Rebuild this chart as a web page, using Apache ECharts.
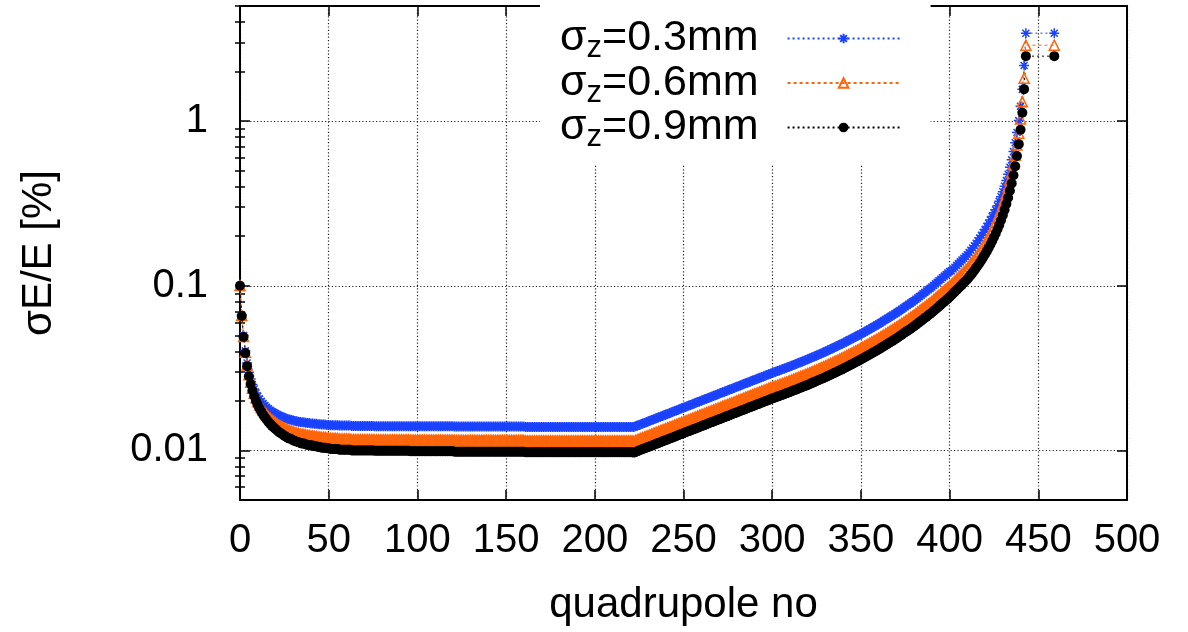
<!DOCTYPE html>
<html><head><meta charset="utf-8">
<script src="https://cdn.jsdelivr.net/npm/echarts@6/dist/echarts.min.js"></script>
<style>html,body{margin:0;padding:0;background:#fff}#chart{width:1188px;height:632px}</style>
</head><body><div id="chart"></div>
<script>
const seriesNames = ['σz=0.3mm', 'σz=0.6mm', 'σz=0.9mm'];

// sigma_E/E [%] per quadrupole number (index = quadrupole no, 0..443)
const sigmaZ03 = [
0.1005,0.06635,0.04989,0.04024,0.03398,0.02989,0.02717,0.02514,0.02358,0.02232,
0.02134,0.02055,0.01985,0.01925,0.01874,0.01831,0.01789,0.01756,0.01723,0.01699,
0.01675,0.01650,0.01627,0.01611,0.01595,0.01580,0.01564,0.01549,0.01541,0.01533,
0.01518,0.01511,0.01503,0.01495,0.01488,0.01481,0.01481,0.01473,0.01466,0.01466,
0.01458,0.01458,0.01451,0.01451,0.01444,0.01444,0.01437,0.01437,0.01437,0.01429,
0.01429,0.01422,0.01422,0.01422,0.01422,0.01422,0.01415,0.01415,0.01415,0.01415,
0.01415,0.01415,0.01415,0.01408,0.01408,0.01408,0.01408,0.01408,0.01408,0.01408,
0.01408,0.01408,0.01408,0.01408,0.01408,0.01408,0.01404,0.01404,0.01404,0.01404,
0.01404,0.01404,0.01404,0.01404,0.01404,0.01404,0.01404,0.01404,0.01404,0.01404,
0.01404,0.01404,0.01404,0.01404,0.01404,0.01404,0.01401,0.01401,0.01401,0.01401,
0.01401,0.01401,0.01401,0.01401,0.01401,0.01401,0.01401,0.01401,0.01401,0.01401,
0.01401,0.01401,0.01401,0.01401,0.01401,0.01401,0.01401,0.01401,0.01401,0.01401,
0.01401,0.01396,0.01396,0.01396,0.01396,0.01396,0.01396,0.01396,0.01396,0.01396,
0.01396,0.01396,0.01396,0.01396,0.01396,0.01396,0.01396,0.01396,0.01396,0.01396,
0.01396,0.01396,0.01396,0.01396,0.01396,0.01396,0.01396,0.01396,0.01396,0.01396,
0.01396,0.01396,0.01396,0.01396,0.01396,0.01396,0.01396,0.01396,0.01396,0.01396,
0.01396,0.01390,0.01390,0.01390,0.01390,0.01390,0.01390,0.01390,0.01390,0.01390,
0.01390,0.01390,0.01390,0.01390,0.01390,0.01390,0.01390,0.01390,0.01390,0.01390,
0.01390,0.01390,0.01390,0.01390,0.01390,0.01390,0.01390,0.01390,0.01390,0.01390,
0.01390,0.01390,0.01390,0.01390,0.01390,0.01390,0.01390,0.01390,0.01390,0.01390,
0.01390,0.01390,0.01390,0.01390,0.01390,0.01390,0.01390,0.01390,0.01390,0.01390,
0.01390,0.01390,0.01390,0.01390,0.01390,0.01390,0.01390,0.01390,0.01390,0.01390,
0.01390,0.01390,0.01387,0.01401,0.01415,0.01429,0.01443,0.01457,0.01470,0.01484,
0.01499,0.01513,0.01529,0.01543,0.01559,0.01573,0.01589,0.01604,0.01620,0.01636,
0.01652,0.01667,0.01683,0.01700,0.01716,0.01733,0.01750,0.01767,0.01785,0.01802,
0.01819,0.01838,0.01855,0.01873,0.01890,0.01909,0.01928,0.01946,0.01966,0.01985,
0.02005,0.02023,0.02043,0.02063,0.02084,0.02104,0.02125,0.02145,0.02166,0.02188,
0.02208,0.02229,0.02252,0.02274,0.02295,0.02318,0.02341,0.02364,0.02387,0.02410,
0.02434,0.02457,0.02481,0.02505,0.02530,0.02554,0.02580,0.02604,0.02630,0.02656,
0.02681,0.02707,0.02733,0.02760,0.02787,0.02814,0.02841,0.02869,0.02897,0.02924,
0.02953,0.02980,0.03007,0.03036,0.03063,0.03092,0.03120,0.03149,0.03179,0.03207,
0.03238,0.03270,0.03302,0.03335,0.03368,0.03402,0.03435,0.03469,0.03504,0.03539,
0.03574,0.03612,0.03652,0.03692,0.03732,0.03772,0.03814,0.03855,0.03897,0.03940,
0.03983,0.04030,0.04077,0.04126,0.04174,0.04224,0.04274,0.04324,0.04376,0.04427,
0.04480,0.04539,0.04597,0.04658,0.04718,0.04779,0.04841,0.04903,0.04968,0.05032,
0.05098,0.05169,0.05244,0.05318,0.05393,0.05470,0.05547,0.05626,0.05704,0.05786,
0.05867,0.05959,0.06052,0.06146,0.06242,0.06339,0.06438,0.06538,0.06639,0.06742,
0.06847,0.06964,0.07084,0.07206,0.07330,0.07456,0.07583,0.07715,0.07846,0.07982,
0.08120,0.08277,0.08436,0.08599,0.08764,0.08935,0.09106,0.09282,0.09462,0.09644,
0.09831,0.1005,0.1027,0.1049,0.1072,0.1096,0.1119,0.1144,0.1169,0.1194,
0.1221,0.1234,0.1265,0.1297,0.1330,0.1363,0.1397,0.1433,0.1469,0.1506,
0.1544,0.1592,0.1641,0.1695,0.1751,0.1812,0.1878,0.1947,0.2023,0.2105,
0.2193,0.2288,0.2394,0.2508,0.2635,0.2776,0.2890,0.3062,0.3255,0.3475,
0.3727,0.4017,0.4358,0.4761,0.5246,0.5816,0.6526,0.7393,0.8528,1.007,
1.230,1.562,2.173,3.42
];

const sigmaZ06 = [
0.1002,0.06587,0.04926,0.03945,0.03304,0.02882,0.02599,0.02387,0.02222,0.02087,
0.01981,0.01896,0.01821,0.01754,0.01698,0.01652,0.01605,0.01568,0.01531,0.01503,
0.01476,0.01448,0.01421,0.01403,0.01385,0.01367,0.01349,0.01331,0.01322,0.01313,
0.01296,0.01287,0.01278,0.01269,0.01260,0.01251,0.01251,0.01243,0.01234,0.01234,
0.01225,0.01225,0.01217,0.01217,0.01208,0.01208,0.01199,0.01199,0.01199,0.01190,
0.01190,0.01182,0.01182,0.01182,0.01182,0.01182,0.01173,0.01173,0.01173,0.01173,
0.01173,0.01173,0.01173,0.01164,0.01164,0.01164,0.01164,0.01164,0.01164,0.01164,
0.01164,0.01164,0.01164,0.01164,0.01164,0.01164,0.01160,0.01160,0.01160,0.01160,
0.01160,0.01160,0.01160,0.01160,0.01160,0.01160,0.01160,0.01160,0.01160,0.01160,
0.01160,0.01160,0.01160,0.01160,0.01160,0.01160,0.01156,0.01156,0.01156,0.01156,
0.01156,0.01156,0.01156,0.01156,0.01156,0.01156,0.01156,0.01156,0.01156,0.01156,
0.01156,0.01156,0.01156,0.01156,0.01156,0.01156,0.01156,0.01156,0.01156,0.01156,
0.01156,0.01150,0.01150,0.01150,0.01150,0.01150,0.01150,0.01150,0.01150,0.01150,
0.01150,0.01150,0.01150,0.01150,0.01150,0.01150,0.01150,0.01150,0.01150,0.01150,
0.01150,0.01150,0.01150,0.01150,0.01150,0.01150,0.01150,0.01150,0.01150,0.01150,
0.01150,0.01150,0.01150,0.01150,0.01150,0.01150,0.01150,0.01150,0.01150,0.01150,
0.01150,0.01143,0.01143,0.01143,0.01143,0.01143,0.01143,0.01143,0.01143,0.01143,
0.01143,0.01143,0.01143,0.01143,0.01143,0.01143,0.01143,0.01143,0.01143,0.01143,
0.01143,0.01143,0.01143,0.01143,0.01143,0.01143,0.01143,0.01143,0.01143,0.01143,
0.01143,0.01143,0.01143,0.01143,0.01143,0.01143,0.01143,0.01143,0.01143,0.01143,
0.01143,0.01143,0.01143,0.01143,0.01143,0.01143,0.01143,0.01143,0.01143,0.01143,
0.01143,0.01143,0.01143,0.01143,0.01143,0.01143,0.01143,0.01143,0.01143,0.01143,
0.01143,0.01143,0.01139,0.01150,0.01162,0.01173,0.01185,0.01196,0.01207,0.01219,
0.01230,0.01242,0.01255,0.01267,0.01280,0.01291,0.01304,0.01317,0.01330,0.01343,
0.01356,0.01369,0.01382,0.01396,0.01409,0.01423,0.01437,0.01451,0.01465,0.01479,
0.01493,0.01509,0.01523,0.01538,0.01552,0.01567,0.01583,0.01598,0.01614,0.01630,
0.01646,0.01661,0.01678,0.01694,0.01711,0.01727,0.01745,0.01761,0.01779,0.01796,
0.01813,0.01830,0.01849,0.01867,0.01884,0.01903,0.01922,0.01941,0.01959,0.01978,
0.01998,0.02017,0.02037,0.02057,0.02077,0.02097,0.02118,0.02138,0.02159,0.02180,
0.02201,0.02222,0.02244,0.02266,0.02288,0.02310,0.02333,0.02355,0.02379,0.02401,
0.02424,0.02438,0.02461,0.02484,0.02506,0.02530,0.02553,0.02576,0.02601,0.02624,
0.02649,0.02676,0.02702,0.02728,0.02755,0.02783,0.02810,0.02838,0.02867,0.02896,
0.02924,0.02955,0.02988,0.03021,0.03054,0.03086,0.03120,0.03154,0.03188,0.03223,
0.03258,0.03297,0.03336,0.03375,0.03415,0.03456,0.03497,0.03538,0.03580,0.03622,
0.03666,0.03714,0.03762,0.03811,0.03860,0.03910,0.03960,0.04012,0.04065,0.04117,
0.04171,0.04230,0.04290,0.04351,0.04412,0.04475,0.04538,0.04603,0.04667,0.04734,
0.04801,0.04875,0.04951,0.05029,0.05107,0.05187,0.05267,0.05349,0.05432,0.05517,
0.05602,0.05698,0.05796,0.05896,0.05997,0.06100,0.06205,0.06312,0.06420,0.06531,
0.06643,0.06772,0.06902,0.07035,0.07171,0.07310,0.07451,0.07594,0.07742,0.07890,
0.08044,0.08219,0.08399,0.08583,0.08771,0.08963,0.09159,0.09359,0.09565,0.09773,
0.09987,0.1019,0.1045,0.1071,0.1098,0.1126,0.1155,0.1184,0.1214,0.1244,
0.1276,0.1315,0.1356,0.1400,0.1447,0.1497,0.1552,0.1609,0.1672,0.1739,
0.1812,0.1891,0.1978,0.2073,0.2177,0.2294,0.2422,0.2566,0.2728,0.2912,
0.3123,0.3367,0.3652,0.3990,0.4397,0.4874,0.5470,0.6197,0.7147,0.8442,
1.031,1.309,1.821,2.89
];

const sigmaZ09 = [
0.100,0.0656,0.0489,0.0390,0.0325,0.0282,0.0253,0.0231,0.0214,0.0200,
0.0189,0.0180,0.0172,0.0165,0.0159,0.0154,0.0149,0.0145,0.0141,0.0138,
0.0135,0.0132,0.0129,0.0127,0.0125,0.0123,0.0121,0.0119,0.0118,0.0117,
0.0115,0.0114,0.0113,0.0112,0.0111,0.0110,0.0110,0.0109,0.0108,0.0108,
0.0107,0.0107,0.0106,0.0106,0.0105,0.0105,0.0104,0.0104,0.0104,0.0103,
0.0103,0.0102,0.0102,0.0102,0.0102,0.0102,0.0101,0.0101,0.0101,0.0101,
0.0101,0.0101,0.0101,0.0100,0.0100,0.0100,0.0100,0.0100,0.0100,0.0100,
0.0100,0.0100,0.0100,0.0100,0.0100,0.0100,0.00995,0.00995,0.00995,0.00995,
0.00995,0.00995,0.00995,0.00995,0.00995,0.00995,0.00995,0.00995,0.00995,0.00995,
0.00995,0.00995,0.00995,0.00995,0.00995,0.00995,0.00990,0.00990,0.00990,0.00990,
0.00990,0.00990,0.00990,0.00990,0.00990,0.00990,0.00990,0.00990,0.00990,0.00990,
0.00990,0.00990,0.00990,0.00990,0.00990,0.00990,0.00990,0.00990,0.00990,0.00990,
0.00990,0.00983,0.00983,0.00983,0.00983,0.00983,0.00983,0.00983,0.00983,0.00983,
0.00983,0.00983,0.00983,0.00983,0.00983,0.00983,0.00983,0.00983,0.00983,0.00983,
0.00983,0.00983,0.00983,0.00983,0.00983,0.00983,0.00983,0.00983,0.00983,0.00983,
0.00983,0.00983,0.00983,0.00983,0.00983,0.00983,0.00983,0.00983,0.00983,0.00983,
0.00983,0.00975,0.00975,0.00975,0.00975,0.00975,0.00975,0.00975,0.00975,0.00975,
0.00975,0.00975,0.00975,0.00975,0.00975,0.00975,0.00975,0.00975,0.00975,0.00975,
0.00975,0.00975,0.00975,0.00975,0.00975,0.00975,0.00975,0.00975,0.00975,0.00975,
0.00975,0.00975,0.00975,0.00975,0.00975,0.00975,0.00975,0.00975,0.00975,0.00975,
0.00975,0.00975,0.00975,0.00975,0.00975,0.00975,0.00975,0.00975,0.00975,0.00975,
0.00975,0.00975,0.00975,0.00975,0.00975,0.00975,0.00975,0.00975,0.00975,0.00975,
0.00975,0.00975,0.00970,0.00980,0.00989,0.00999,0.01009,0.01019,0.01028,0.01038,
0.01048,0.01058,0.01069,0.01079,0.01090,0.01100,0.01111,0.01122,0.01133,0.01144,
0.01155,0.01166,0.01177,0.01189,0.01200,0.01212,0.01224,0.01236,0.01248,0.01260,
0.01272,0.01285,0.01297,0.01310,0.01322,0.01335,0.01348,0.01361,0.01375,0.01388,
0.01402,0.01415,0.01429,0.01443,0.01457,0.01471,0.01486,0.01500,0.01515,0.01530,
0.01544,0.01559,0.01575,0.01590,0.01605,0.01621,0.01637,0.01653,0.01669,0.01685,
0.01702,0.01718,0.01735,0.01752,0.01769,0.01786,0.01804,0.01821,0.01839,0.01857,
0.01875,0.01893,0.01911,0.01930,0.01949,0.01968,0.01987,0.02006,0.02026,0.02045,
0.02065,0.02084,0.02103,0.02123,0.02142,0.02162,0.02182,0.02202,0.02223,0.02243,
0.02264,0.02287,0.02309,0.02332,0.02355,0.02379,0.02402,0.02426,0.02450,0.02475,
0.02499,0.02526,0.02554,0.02582,0.02610,0.02638,0.02667,0.02696,0.02725,0.02755,
0.02785,0.02818,0.02851,0.02885,0.02919,0.02954,0.02989,0.03024,0.03060,0.03096,
0.03133,0.03174,0.03215,0.03257,0.03299,0.03342,0.03385,0.03429,0.03474,0.03519,
0.03565,0.03615,0.03667,0.03719,0.03771,0.03825,0.03879,0.03934,0.03989,0.04046,
0.04103,0.04167,0.04232,0.04298,0.04365,0.04433,0.04502,0.04572,0.04643,0.04715,
0.04788,0.04870,0.04954,0.05039,0.05126,0.05214,0.05303,0.05395,0.05487,0.05582,
0.05678,0.05788,0.05899,0.06013,0.06129,0.06248,0.06368,0.06491,0.06617,0.06744,
0.06875,0.07025,0.07179,0.07336,0.07497,0.07661,0.07828,0.07999,0.08175,0.08353,
0.08536,0.08751,0.08971,0.09197,0.09429,0.09666,0.09910,0.1016,0.1042,0.1068,
0.1095,0.1129,0.1164,0.1202,0.1242,0.1285,0.1332,0.1381,0.1435,0.1493,
0.1555,0.1623,0.1698,0.1779,0.1869,0.1969,0.2079,0.2203,0.2342,0.2500,
0.2681,0.2890,0.3135,0.3425,0.3774,0.4184,0.4695,0.5319,0.6135,0.7246,
0.885,1.124,1.563,2.48
];

// final isolated point of each series
const lastQuad = 459;
const lastValues = [3.42, 2.89, 2.48];

const xTickValues = [0, 50, 100, 150, 200, 250, 300, 350, 400, 450, 500];
const yMajorTicks = [0.01, 0.1, 1];
const yMinorTicks = [0.006, 0.007, 0.008, 0.009,
  0.02, 0.03, 0.04, 0.05, 0.06, 0.07, 0.08, 0.09,
  0.2, 0.3, 0.4, 0.5, 0.6, 0.7, 0.8, 0.9, 2, 3, 4, 5];

const FONT = 'Liberation Sans';
const BLUE = '#1a42ff';
const ORANGE = '#ff6408';
const BLACK = '#000000';
const asterisk = 'path://M50,0L50,100M0,50L100,50M15,15L85,85M85,15L15,85';

function makeData(values, last) {
  const d = values.map((v, i) => [i, v]);
  d.push([lastQuad, last]);
  return d;
}

const chart = echarts.init(document.getElementById('chart'), null, {renderer: 'canvas'});

const gridLine = {show: true, lineStyle: {color: '#222', width: 1.2, type: [1.2, 2.2]}};
const frameLine = {show: true, onZero: false, lineStyle: {color: '#000', width: 2}};

function yAxisDef(pos, ticks, len, labels, split) {
  return {
    type: 'log', logBase: 10, min: 0.005, max: 5, position: pos,
    axisLine: labels || split ? frameLine : {show: false},
    axisTick: {show: true, inside: true, length: len, customValues: ticks,
               lineStyle: {color: '#000', width: 1.5}},
    axisLabel: labels ? {show: true, customValues: ticks, fontFamily: FONT, fontSize: 40, color: '#000', margin: 32,
                formatter: v => String(parseFloat(Number(v).toPrecision(6)))} : {show: false},
    splitLine: split ? gridLine : {show: false},
    minorTick: {show: false}, minorSplitLine: {show: false}
  };
}

const option = {
  animation: false,
  backgroundColor: '#fff',
  grid: {left: 240, right: 61, top: 6, bottom: 132, containLabel: false},
  xAxis: [
    {type: 'value', min: 0, max: 500, interval: 50, position: 'bottom',
     axisLine: frameLine,
     axisTick: {show: true, inside: true, length: 10, lineStyle: {color: '#000', width: 1.5}},
     axisLabel: {show: true, fontFamily: FONT, fontSize: 40, color: '#000', margin: 21},
     splitLine: gridLine,
     name: 'quadrupole no', nameLocation: 'middle', nameGap: 84,
     nameTextStyle: {fontFamily: FONT, fontSize: 42, color: '#000'}},
    {type: 'value', min: 0, max: 500, interval: 50, position: 'top',
     axisLine: frameLine,
     axisTick: {show: true, inside: true, length: 10, lineStyle: {color: '#000', width: 1.5}},
     axisLabel: {show: false}, splitLine: {show: false}}
  ],
  yAxis: [
    Object.assign(yAxisDef('left', yMajorTicks, 10, true, true), {
      name: 'σE/E [%]', nameLocation: 'middle', nameGap: 180, nameRotate: 90,
      nameTextStyle: {fontFamily: FONT, fontSize: 42, color: '#000'}}),
    yAxisDef('left', yMinorTicks, 5, false, false),
    Object.assign(yAxisDef('right', yMajorTicks, 10, false, false), {axisLine: frameLine}),
    yAxisDef('right', yMinorTicks, 5, false, false)
  ],
  legend: {
    data: seriesNames, orient: 'vertical', left: 540, top: 0,
    align: 'right', itemWidth: 112, itemHeight: 12, itemGap: -6.5,
    backgroundColor: '#fff', padding: [13, 30, 12, 20],
    selectedMode: false,
    formatter: name => '{s|σ}{z|z}{s|' + name.slice(2) + '}{g|}',
    textStyle: {
      color: '#000', fontFamily: FONT, fontSize: 43,
      rich: {
        s: {fontFamily: FONT, fontSize: 43, lineHeight: 43, color: '#000'},
        z: {fontFamily: FONT, fontSize: 31, lineHeight: 23, padding: [20, 0, 0, 0], color: '#000'},
        g: {width: 24, lineHeight: 43}
      }
    }
  },
  series: [
    {name: seriesNames[0], type: 'line', data: makeData(sigmaZ03, lastValues[0]),
     xAxisIndex: 0, yAxisIndex: 0,
     symbol: asterisk, symbolSize: 10, showAllSymbol: true,
     itemStyle: {color: 'rgba(0,0,0,0)', borderColor: BLUE, borderWidth: 1.5},
     lineStyle: {color: BLUE, width: 1, type: [2, 3]},
     emphasis: {disabled: true}},
    {name: seriesNames[1], type: 'line', data: makeData(sigmaZ06, lastValues[1]),
     xAxisIndex: 0, yAxisIndex: 0,
     symbol: 'triangle', symbolSize: 10, showAllSymbol: true,
     itemStyle: {color: 'rgba(0,0,0,0)', borderColor: ORANGE, borderWidth: 1.5},
     lineStyle: {color: ORANGE, width: 1, type: [3, 3]},
     emphasis: {disabled: true}},
    {name: seriesNames[2], type: 'line', data: makeData(sigmaZ09, lastValues[2]),
     xAxisIndex: 0, yAxisIndex: 0,
     symbol: 'circle', symbolSize: 10, showAllSymbol: true,
     itemStyle: {color: BLACK},
     lineStyle: {color: BLACK, width: 1, type: [2, 3]},
     emphasis: {disabled: true}}
  ]
};
chart.setOption(option);
</script>
</body></html>
